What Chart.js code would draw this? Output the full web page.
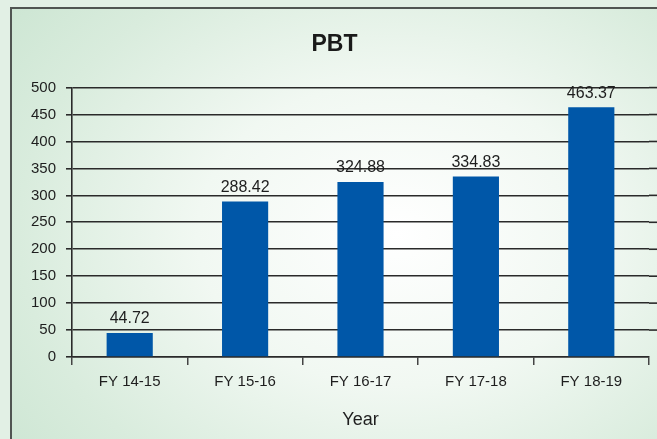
<!DOCTYPE html>
<html lang="en">
<head>
<meta charset="UTF-8">
<title>PBT</title>
<script src="https://cdn.jsdelivr.net/npm/chart.js"></script>
<style>
  html, body { margin: 0; padding: 0; }
  body {
    width: 657px; height: 439px; overflow: hidden; position: relative;
    background: #e2f0e5;
  }
  #frame {
    position: absolute; left: 10px; top: 7px; width: 700px; height: 500px;
    border: 2px solid #505552;
    background: radial-gradient(ellipse 75% 80% at 55% 45%, #ffffff 0%, #f1f8f2 38%, #d9ecdd 72%, #c9e4d0 100%);
  }
  #wrap { position: absolute; left: 0; top: 0; width: 657px; height: 439px; }
</style>
</head>
<body>
<div id="frame"></div>
<div id="wrap"><canvas id="pbtChart" width="657" height="439"></canvas></div>

<script>
    // chart data
    const years = ['FY 14-15', 'FY 15-16', 'FY 16-17', 'FY 17-18', 'FY 18-19'];
    const pbt = [44.72, 288.42, 324.88, 334.83, 463.37];

    const textFont = "'Liberation Sans', Arial, sans-serif";

    // value labels above each bar
    const valueLabels = {
        id: 'valueLabels',
        afterDatasetsDraw(chart) {
            const ctx = chart.ctx;
            const meta = chart.getDatasetMeta(0);
            ctx.save();
            ctx.font = '16px ' + textFont;
            ctx.fillStyle = '#1e1e1e';
            ctx.textAlign = 'center';
            ctx.textBaseline = 'bottom';
            meta.data.forEach((bar, i) => {
                ctx.fillText(pbt[i].toFixed(2), bar.x, bar.y - 6);
            });
            ctx.restore();
        }
    };

    // horizontal grid lines run on past the last category to the frame edge
    const gridTail = {
        id: 'gridTail',
        beforeDatasetsDraw(chart) {
            const ctx = chart.ctx;
            const y = chart.scales.y;
            ctx.save();
            ctx.strokeStyle = '#2a2a2a';
            ctx.lineWidth = 1.6;
            y.ticks.forEach(t => {
                if (t.value === 0) return;
                const py = y.getPixelForValue(t.value);
                ctx.beginPath();
                ctx.moveTo(chart.chartArea.right, py);
                ctx.lineTo(chart.width, py);
                ctx.stroke();
            });
            ctx.restore();
        }
    };

    const ctx = document.getElementById('pbtChart').getContext('2d');
    new Chart(ctx, {
        type: 'bar',
        data: {
            labels: years,
            datasets: [{
                label: 'PBT',
                data: pbt,
                backgroundColor: '#0057a8',
                borderWidth: 0,
                barPercentage: 0.8,
                categoryPercentage: 0.5
            }]
        },
        options: {
            responsive: false,
            animation: false,
            layout: { padding: { left: 20, right: 8, top: 0, bottom: 0 } },
            plugins: {
                legend: { display: false },
                tooltip: { enabled: false },
                title: {
                    display: true,
                    text: 'PBT',
                    color: '#1a1a1a',
                    font: { family: textFont, size: 23, weight: 'bold' },
                    padding: { top: 31, bottom: 29 }
                }
            },
            scales: {
                x: {
                    afterFit(scale) { scale.height = 82; },
                    grid: {
                        drawOnChartArea: false,
                        drawTicks: true,
                        tickLength: 8,
                        color: '#444',
                        lineWidth: 1.5
                    },
                    border: { color: '#2a2a2a', width: 1.6 },
                    ticks: {
                        color: '#1e1e1e',
                        padding: 8,
                        font: { family: textFont, size: 15 }
                    },
                    title: {
                        display: true,
                        text: 'Year',
                        color: '#1e1e1e',
                        font: { family: textFont, size: 18 },
                        padding: { top: 4, bottom: 8 }
                    }
                },
                y: {
                    min: 0,
                    max: 500,
                    afterFit(scale) { scale.width = 52; },
                    grid: {
                        color: '#2a2a2a',
                        lineWidth: 1.6,
                        tickLength: 6
                    },
                    border: { color: '#2a2a2a', width: 1.6 },
                    ticks: {
                        stepSize: 50,
                        color: '#1e1e1e',
                        padding: 10,
                        font: { family: textFont, size: 15 }
                    }
                }
            }
        },
        plugins: [gridTail, valueLabels]
    });
</script>
</body>
</html>
